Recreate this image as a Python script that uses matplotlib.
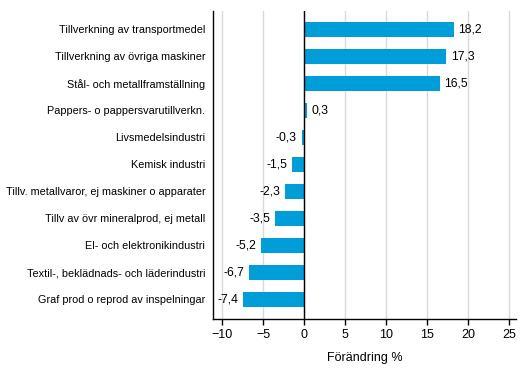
import numpy as np
import matplotlib.pyplot as plt

plt.rcParams['font.family'] = ['Liberation Sans', 'DejaVu Sans']

categories = [
    'Tillverkning av transportmedel',
    'Tillverkning av övriga maskiner',
    'Stål- och metallframställning',
    'Pappers- o pappersvarutillverkn.',
    'Livsmedelsindustri',
    'Kemisk industri',
    'Tillv. metallvaror, ej maskiner o apparater',
    'Tillv av övr mineralprod, ej metall',
    'El- och elektronikindustri',
    'Textil-, beklädnads- och läderindustri',
    'Graf prod o reprod av inspelningar',
]
values = [18.2, 17.3, 16.5, 0.3, -0.3, -1.5, -2.3, -3.5, -5.2, -6.7, -7.4]
xticks = [-10, -5, 0, 5, 10, 15, 20, 25]

fig = plt.figure(figsize=(5.29, 3.78), dpi=100)
ax = fig.add_axes([0.4026, 0.156, 0.5728, 0.815])

y = np.arange(len(categories))
ax.barh(y, values, height=0.56, color='#009ED9', zorder=3)

# värdeetiketter med decimalkomma
for yi, v in zip(y, values):
    txt = f'{v:.1f}'.replace('.', ',')
    if v >= 0:
        ax.text(v + 0.6, yi, txt, va='center', ha='left', fontsize=8.8)
    else:
        ax.text(v - 0.6, yi, txt, va='center', ha='right', fontsize=8.8)

ax.axvline(0, color='black', linewidth=1, zorder=4)

ax.set_xlim(-11.1, 25.8)
ax.set_ylim(len(categories) - 0.27, -0.67)
ax.set_xticks(xticks)
ax.set_yticks(y)
ax.set_yticklabels(categories, fontsize=7.8)
ax.tick_params(axis='y', length=0, pad=5.5)
ax.tick_params(axis='x', length=4, width=1, labelsize=9, pad=3)
ax.grid(axis='x', color='#d9d9d9', linewidth=1, zorder=0)

for s in ['top', 'right']:
    ax.spines[s].set_visible(False)
ax.spines['left'].set_linewidth(1)
ax.spines['bottom'].set_linewidth(1)

ax.set_xlabel('Förändring %', fontsize=9, labelpad=8)

fig.savefig('out.png', dpi=100)
